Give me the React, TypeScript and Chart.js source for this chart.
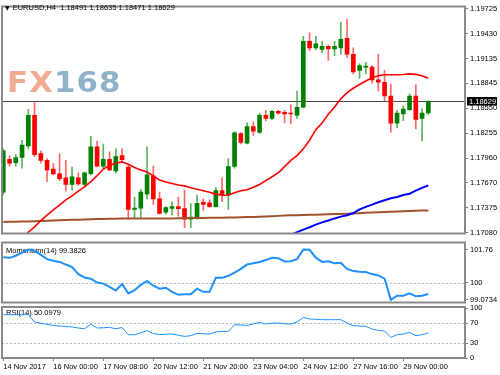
import React, { useEffect, useRef } from 'react';
import { Chart, registerables } from 'chart.js';

Chart.register(...registerables);

const symbolName = 'EURUSD,H4';

const opens = [
  1.17557, 1.17943, 1.17906, 1.17966, 1.18102, 1.18465, 1.18011, 1.17932, 1.17829, 1.17773,
  1.17727, 1.17648, 1.17727, 1.17648, 1.17776, 1.18091, 1.17864, 1.17943, 1.17807, 1.17990,
  1.17852, 1.17353, 1.17368, 1.17534, 1.17750, 1.17478, 1.17322, 1.17364, 1.17387, 1.17364,
  1.17239, 1.17254, 1.17436, 1.17432, 1.17387, 1.17576, 1.17520, 1.17860, 1.18249, 1.18136,
  1.18332, 1.18261, 1.18465, 1.18427, 1.18511, 1.18499, 1.18487, 1.18465, 1.18559, 1.19336,
  1.19260, 1.19240, 1.19279, 1.19248, 1.19260, 1.19373, 1.19184, 1.18995, 1.19033, 1.19033,
  1.18882, 1.18854, 1.18692, 1.18371, 1.18481, 1.18530, 1.18692, 1.18427, 1.18491,
];
const highs = [
  1.18068, 1.17988, 1.17999, 1.18170, 1.18533, 1.18613, 1.18045, 1.17954, 1.17898, 1.18011,
  1.17932, 1.17852, 1.17784, 1.17795, 1.18215, 1.18159, 1.18125, 1.18034, 1.18068, 1.18068,
  1.17875, 1.17500, 1.17591, 1.18091, 1.17864, 1.17557, 1.17387, 1.17444, 1.17500, 1.17580,
  1.17421, 1.17523, 1.17478, 1.17466, 1.17614, 1.17727, 1.17954, 1.18272, 1.18261, 1.18374,
  1.18386, 1.18488, 1.18522, 1.18522, 1.18522, 1.18522, 1.18590, 1.18749, 1.19396, 1.19438,
  1.19396, 1.19336, 1.19297, 1.19336, 1.19563, 1.19600, 1.19260, 1.19070, 1.19089, 1.19052,
  1.19184, 1.18995, 1.18832, 1.18522, 1.18578, 1.18718, 1.18825, 1.18541, 1.18635,
];
const lows = [
  1.17523, 1.17864, 1.17864, 1.17841, 1.18068, 1.17977, 1.17898, 1.17682, 1.17761, 1.17693,
  1.17568, 1.17580, 1.17640, 1.17636, 1.17761, 1.17855, 1.17829, 1.17810, 1.17784, 1.17898,
  1.17239, 1.17251, 1.17262, 1.17478, 1.17410, 1.17296, 1.17296, 1.17285, 1.17273, 1.17137,
  1.17137, 1.17239, 1.17342, 1.17380, 1.17380, 1.17444, 1.17353, 1.17841, 1.18125, 1.18125,
  1.18227, 1.18250, 1.18397, 1.18408, 1.18476, 1.18374, 1.18363, 1.18427, 1.18550, 1.19226,
  1.19237, 1.19203, 1.19112, 1.19169, 1.19184, 1.19146, 1.18953, 1.18900, 1.18953, 1.18843,
  1.18749, 1.18635, 1.18264, 1.18314, 1.18400, 1.18522, 1.18303, 1.18162, 1.18471,
];
const closes = [
  1.18045, 1.17898, 1.17966, 1.18113, 1.18465, 1.17999, 1.17932, 1.17818, 1.17773, 1.17716,
  1.17648, 1.17738, 1.17655, 1.17784, 1.18091, 1.17864, 1.17943, 1.17818, 1.17977, 1.17940,
  1.17353, 1.17368, 1.17557, 1.17761, 1.17478, 1.17307, 1.17375, 1.17387, 1.17361, 1.17239,
  1.17262, 1.17424, 1.17413, 1.17387, 1.17576, 1.17520, 1.17860, 1.18258, 1.18144, 1.18332,
  1.18276, 1.18465, 1.18427, 1.18510, 1.18488, 1.18481, 1.18479, 1.18559, 1.19336, 1.19260,
  1.19308, 1.19279, 1.19248, 1.19279, 1.19362, 1.19184, 1.18976, 1.19052, 1.19044, 1.18882,
  1.18854, 1.18692, 1.18371, 1.18491, 1.18538, 1.18692, 1.18416, 1.18491, 1.18629,
];

const maRed = [
  null, null, 1.16944, 1.17012, 1.17084, 1.17148, 1.17222, 1.17285, 1.17347, 1.17404,
  1.17466, 1.17512, 1.17568, 1.17620, 1.17682, 1.17750, 1.17830, 1.17875, 1.17898, 1.17915,
  1.17887, 1.17847, 1.17818, 1.17795, 1.17750, 1.17699, 1.17676, 1.17659, 1.17642, 1.17631,
  1.17608, 1.17591, 1.17574, 1.17557, 1.17534, 1.17520, 1.17523, 1.17551, 1.17574, 1.17586,
  1.17614, 1.17648, 1.17693, 1.17739, 1.17784, 1.17858, 1.17932, 1.17988, 1.18068, 1.18170,
  1.18295, 1.18374, 1.18476, 1.18562, 1.18658, 1.18732, 1.18783, 1.18828, 1.18868, 1.18908,
  1.18930, 1.18942, 1.18942, 1.18942, 1.18945, 1.18953, 1.18947, 1.18930, 1.18900,
];
const maBlue = [
  null, null, null, null, null, null, null, null, null, null,
  null, null, null, null, null, null, null, null, null, null,
  null, null, null, null, null, null, null, null, null, null,
  null, null, null, null, null, null, null, null, null, null,
  null, null, null, null, 1.16995, 1.17024, 1.17052, 1.17086, 1.17115, 1.17143,
  1.17174, 1.17200, 1.17222, 1.17247, 1.17268, 1.17285, 1.17311, 1.17353, 1.17384, 1.17410,
  1.17438, 1.17461, 1.17484, 1.17500, 1.17523, 1.17538, 1.17574, 1.17608, 1.17637,
];
const maBrown = [
  1.17205, 1.17207, 1.17208, 1.17210, 1.17212, 1.17214, 1.17217, 1.17219, 1.17222, 1.17225,
  1.17228, 1.17230, 1.17232, 1.17235, 1.17237, 1.17239, 1.17240, 1.17242, 1.17244, 1.17245,
  1.17245, 1.17245, 1.17246, 1.17246, 1.17246, 1.17246, 1.17247, 1.17247, 1.17248, 1.17250,
  1.17251, 1.17252, 1.17253, 1.17254, 1.17255, 1.17256, 1.17257, 1.17259, 1.17261, 1.17263,
  1.17265, 1.17268, 1.17271, 1.17274, 1.17277, 1.17280, 1.17283, 1.17285, 1.17287, 1.17289,
  1.17291, 1.17293, 1.17295, 1.17298, 1.17300, 1.17302, 1.17305, 1.17309, 1.17313, 1.17317,
  1.17320, 1.17324, 1.17327, 1.17330, 1.17333, 1.17335, 1.17337, 1.17339, 1.17341,
];

const momentum = [
  101.35, 101.32, 101.43, 101.60, 101.76, 101.70, 101.48, 101.25, 101.16, 101.10,
  100.96, 100.83, 100.45, 100.27, 100.20, 100.00, 99.94, 99.77, 99.57, 99.92,
  99.42, 99.59, 99.87, 100.08, 99.83, 99.67, 99.72, 99.50, 99.34, 99.37,
  99.37, 99.67, 99.50, 99.50, 100.25, 100.25, 100.36, 100.53, 100.73, 100.96,
  101.03, 101.10, 101.20, 101.32, 101.30, 101.13, 101.14, 101.25, 101.76, 101.75,
  101.33, 101.10, 101.13, 101.03, 101.05, 100.73, 100.61, 100.58, 100.56, 100.45,
  100.38, 100.21, 99.0734, 99.29, 99.29, 99.42, 99.26, 99.29, 99.3826,
];
const rsi = [
  86.5, 86.5, 86.6, 86.6, 86.8, 72.0, 69.5, 67.5, 65.0, 64.0,
  63.0, 62.0, 60.0, 58.6, 67.5, 60.0, 60.5, 61.2, 58.6, 61.0,
  46.6, 46.6, 50.5, 54.6, 49.0, 46.6, 47.5, 48.0, 45.5, 43.2,
  44.6, 49.2, 48.5, 48.0, 52.0, 53.2, 53.2, 66.6, 66.0, 65.2,
  68.0, 71.0, 68.0, 69.5, 70.0, 68.5, 68.0, 72.0, 81.2, 78.0,
  77.5, 76.6, 76.6, 76.6, 76.6, 70.0, 64.6, 64.0, 63.2, 58.0,
  55.2, 54.0, 41.2, 46.6, 48.0, 51.2, 44.6, 46.6, 50.0979,
];

const timeTickBars = [0, 8, 16, 24, 32, 40, 48, 56, 64];
const timeTickLabels = [
  '14 Nov 2017', '16 Nov 00:00', '17 Nov 08:00', '20 Nov 12:00', '21 Nov 20:00',
  '23 Nov 04:00', '24 Nov 12:00', '27 Nov 16:00', '29 Nov 00:00',
];
const priceTicks = [1.1708, 1.17375, 1.1767, 1.1796, 1.18255, 1.1855, 1.18845, 1.19135, 1.1943, 1.19725];
const momTicks = [99.0734, 100, 101.76];
const momTickLabels = ['99.0734', '100', '101.76'];
const momLevels = [100];
const rsiTicks = [0, 30, 70, 100];
const rsiLevels = [30, 70];

const FONT_FAMILY = "'Liberation Sans', Arial, 'DejaVu Sans', sans-serif";
const FONT = { family: FONT_FAMILY, size: 7.5 };
const X_MIN = -0.21;
const X_MAX = 73.87;
const FRAME = '#8a8a8a';

const xScale = (display: boolean) => ({
  type: 'linear',
  min: X_MIN,
  max: X_MAX,
  offset: false,
  display,
  grid: { drawOnChartArea: false, tickLength: 3, color: '#808080' },
  border: { display: false },
  afterBuildTicks: (s: any) => {
    s.ticks = timeTickBars.map((v) => ({ value: v }));
  },
  afterFit: (s: any) => {
    if (display) s.height = 17;
  },
  ticks: {
    autoSkip: false,
    maxRotation: 0,
    minRotation: 0,
    align: 'start',
    padding: 1,
    font: FONT,
    color: '#000',
    callback: (_v: any, i: number) => timeTickLabels[i],
  },
});

const yScale = (min: number, max: number, ticks: number[], fmt: (v: number, i: number) => string) => ({
  type: 'linear',
  position: 'right',
  min,
  max,
  afterBuildTicks: (s: any) => {
    s.ticks = ticks.map((v) => ({ value: v }));
  },
  afterFit: (s: any) => {
    s.width = 35;
  },
  grid: { drawOnChartArea: false, tickLength: 3, color: '#808080' },
  border: { display: false },
  ticks: { padding: 2, font: FONT, color: '#000', callback: (v: any, i: number) => fmt(Number(v), i) },
});

const framePlugin = {
  id: 'frame',
  afterDraw(chart: any) {
    const { ctx, chartArea: a } = chart;
    ctx.save();
    ctx.strokeStyle = FRAME;
    ctx.lineWidth = 2;
    ctx.strokeRect(a.left, a.top, a.right - a.left, a.bottom - a.top);
    ctx.restore();
  },
};

const makeLevels = (levels: number[]) => ({
  id: 'levels',
  beforeDatasetsDraw(chart: any) {
    const { ctx, chartArea: a, scales } = chart;
    ctx.save();
    ctx.strokeStyle = '#b8b8b8';
    ctx.lineWidth = 1;
    ctx.setLineDash([2, 2]);
    levels.forEach((v) => {
      const y = Math.round(scales.y.getPixelForValue(v)) + 0.5;
      ctx.beginPath();
      ctx.moveTo(a.left, y);
      ctx.lineTo(a.right, y);
      ctx.stroke();
    });
    ctx.restore();
  },
});

const makeCaption = (text: string, dy: number) => ({
  id: 'caption',
  beforeDatasetsDraw(chart: any) {
    const { ctx, chartArea: a } = chart;
    ctx.save();
    ctx.font = `7.5px ${FONT_FAMILY}`;
    ctx.fillStyle = '#000';
    ctx.textBaseline = 'middle';
    ctx.textAlign = 'left';
    ctx.fillText(text, a.left + 4, a.top + dy);
    ctx.restore();
  },
});

const lastClose = closes[closes.length - 1];

const priceLinePlugin = {
  id: 'priceLine',
  beforeDatasetsDraw(chart: any) {
    const { ctx, chartArea: a, scales } = chart;
    const y = Math.round(scales.y.getPixelForValue(lastClose)) + 0.5;
    ctx.save();
    ctx.strokeStyle = '#4a4a4a';
    ctx.lineWidth = 1;
    ctx.beginPath();
    ctx.moveTo(a.left, y);
    ctx.lineTo(a.right, y);
    ctx.stroke();
    ctx.restore();
  },
  afterDraw(chart: any) {
    const { ctx, chartArea: a, scales } = chart;
    const y = Math.round(scales.y.getPixelForValue(lastClose));
    ctx.save();
    ctx.fillStyle = '#000';
    ctx.fillRect(a.right + 2, y - 4, 30, 8.5);
    ctx.fillStyle = '#fff';
    ctx.font = `7.5px ${FONT_FAMILY}`;
    ctx.textBaseline = 'middle';
    ctx.textAlign = 'left';
    ctx.fillText(lastClose.toFixed(5), a.right + 4, y + 0.5);
    ctx.restore();
  },
};

const toPts = (arr: (number | null)[]) => arr.map((v, i) => ({ x: i, y: v }));

const baseOptions = (padTop: number, padBottom: number) => ({
  responsive: false,
  maintainAspectRatio: false,
  animation: false,
  devicePixelRatio: 1,
  events: [],
  layout: { padding: { left: 2, right: 0, top: padTop, bottom: padBottom } },
  plugins: { legend: { display: false }, tooltip: { enabled: false } },
});

export default function App() {
  const mainRef = useRef<HTMLCanvasElement>(null);
  const momRef = useRef<HTMLCanvasElement>(null);
  const rsiRef = useRef<HTMLCanvasElement>(null);

  useEffect(() => {
    const up = closes.map((c, i) => c >= opens[i]);
    const bodyColors = up.map((u) => (u ? '#008000' : '#ff0000'));
    const wickColors = up.map((u) => (u ? 'rgba(0,140,0,0.65)' : 'rgba(255,0,0,0.6)'));

    const main = new Chart(mainRef.current as HTMLCanvasElement, {
      type: 'bar',
      data: {
        datasets: [
          { type: 'line', data: toPts(maRed), borderColor: '#ff0000', borderWidth: 1.6, pointRadius: 0, tension: 0, order: 0 },
          { type: 'line', data: toPts(maBlue), borderColor: '#0000ff', borderWidth: 2, pointRadius: 0, tension: 0, order: 0 },
          { type: 'line', data: toPts(maBrown), borderColor: '#a0522d', borderWidth: 2, pointRadius: 0, tension: 0, order: 0 },
          {
            type: 'bar',
            data: opens.map((o, i) => ({ x: i, y: [o, closes[i]] })),
            backgroundColor: bodyColors,
            barThickness: 4,
            minBarLength: 1,
            grouped: false,
            order: 1,
          },
          {
            type: 'bar',
            data: lows.map((l, i) => ({ x: i, y: [l, highs[i]] })),
            backgroundColor: wickColors,
            barThickness: 1,
            grouped: false,
            order: 2,
          },
        ],
      } as any,
      options: {
        ...baseOptions(2, 2),
        scales: {
          x: xScale(false),
          y: yScale(1.17069, 1.19748, priceTicks, (v) => v.toFixed(5)),
        },
      } as any,
      plugins: [priceLinePlugin, framePlugin],
    });

    const mom = new Chart(momRef.current as HTMLCanvasElement, {
      type: 'line',
      data: {
        datasets: [
          { data: toPts(momentum), borderColor: '#1e90ff', borderWidth: 2, pointRadius: 0, tension: 0 },
        ],
      } as any,
      options: {
        ...baseOptions(4, 4),
        scales: {
          x: xScale(false),
          y: yScale(98.93, 102.14, momTicks, (_v, i) => momTickLabels[i]),
        },
      } as any,
      plugins: [
        makeLevels(momLevels),
        makeCaption(`Momentum(14) ${momentum[momentum.length - 1].toFixed(4)}`, 8),
        framePlugin,
      ],
    });

    const rsiChart = new Chart(rsiRef.current as HTMLCanvasElement, {
      type: 'line',
      data: {
        datasets: [
          { data: toPts(rsi), borderColor: '#1e90ff', borderWidth: 1, pointRadius: 0, tension: 0 },
        ],
      } as any,
      options: {
        ...baseOptions(7, 0),
        scales: {
          x: xScale(true),
          y: yScale(0, 102, rsiTicks, (v) => String(Math.round(v))),
        },
      } as any,
      plugins: [
        makeLevels(rsiLevels),
        makeCaption(`RSI(14) ${rsi[rsi.length - 1].toFixed(4)}`, 6),
        framePlugin,
      ],
    });

    return () => {
      main.destroy();
      mom.destroy();
      rsiChart.destroy();
    };
  }, []);

  const last = opens.length - 1;
  const header = `${symbolName}  ${opens[last].toFixed(5)} ${highs[last].toFixed(5)} ${lows[last].toFixed(5)} ${closes[last].toFixed(5)}`;

  const canvasStyle = (top: number, h: number): React.CSSProperties => ({
    position: 'absolute',
    left: 0,
    top,
    width: 500,
    height: h,
    display: 'block',
  });

  return (
    <div
      style={{
        position: 'fixed',
        left: 0,
        top: 0,
        width: 500,
        height: 375,
        background: '#fff',
        overflow: 'hidden',
      }}
    >
      <canvas ref={mainRef} width={500} height={240} style={canvasStyle(0, 240)} />
      <canvas ref={momRef} width={500} height={73} style={canvasStyle(236, 73)} />
      <canvas ref={rsiRef} width={500} height={75} style={canvasStyle(300, 75)} />
      <div
        style={{
          position: 'absolute',
          left: 5,
          top: 3,
          font: `7.5px ${FONT_FAMILY}`,
          lineHeight: '10px',
          color: '#000',
          whiteSpace: 'pre',
        }}
      >
        <span style={{ fontSize: 6, fontFamily: "'DejaVu Sans', sans-serif", marginRight: 3 }}>▼</span>
        {header}
      </div>
      <div
        style={{
          position: 'absolute',
          left: 7,
          top: 69,
          fontFamily: "'DejaVu Sans', sans-serif",
          fontWeight: 'bold',
          fontSize: 28,
          lineHeight: '28px',
          letterSpacing: 1,
          transform: 'scaleX(1.1)',
          transformOrigin: 'left top',
          whiteSpace: 'pre',
        }}
      >
        <span style={{ color: '#f2aa90' }}>FX</span>
        <span style={{ color: '#90b2ca' }}>168</span>
      </div>
    </div>
  );
}
